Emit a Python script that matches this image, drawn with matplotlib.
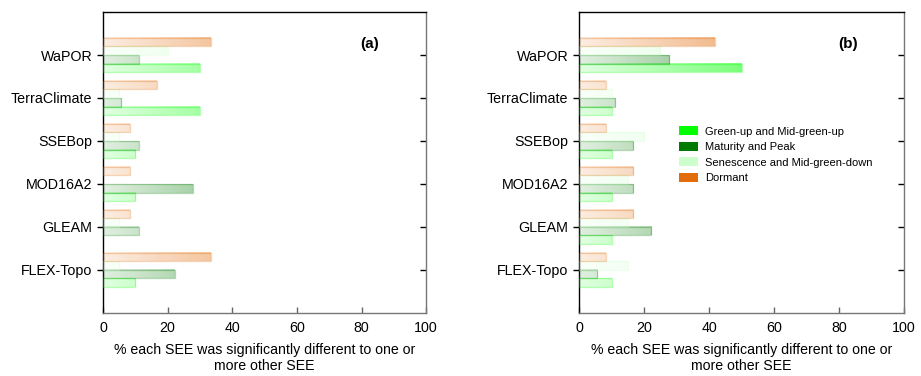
import numpy as np
import matplotlib.pyplot as plt
from matplotlib.colors import to_rgb

plt.rcParams["font.family"] = ["Liberation Sans", "DejaVu Sans"]

products = ["WaPOR", "TerraClimate", "SSEBop", "MOD16A2", "GLEAM", "FLEX-Topo"]
phases = ["Green-up and Mid-green-up", "Maturity and Peak",
          "Senescence and Mid-green-down", "Dormant"]
phase_colors = ["#00FF00", "#007A00", "#CCFFCC", "#E36C0A"]

# panel (a)
greenup_a = [30, 30, 10, 10, 0, 10]
maturity_a = [11.1, 5.6, 11.1, 27.8, 11.1, 22.2]
senescence_a = [20, 5, 5, 0, 5, 5]
dormant_a = [33.3, 16.7, 8.3, 8.3, 8.3, 33.3]

# panel (b)
greenup_b = [50, 10, 10, 10, 10, 10]
maturity_b = [27.8, 11.1, 16.7, 16.7, 22.2, 5.6]
senescence_b = [25, 10, 20, 15, 15, 15]
dormant_b = [41.7, 8.3, 8.3, 16.7, 16.7, 8.3]

xticks = [0, 20, 40, 60, 80, 100]
xlabel = "% each SEE was significantly different to one or\nmore other SEE"

fig = plt.figure(figsize=(9.21, 3.76), dpi=100)
ax_a = fig.add_axes([0.1118, 0.168, 0.351, 0.80])
ax_b = fig.add_axes([0.6287, 0.168, 0.353, 0.80])

h = 0.2
offsets = [1.5 * h, 0.5 * h, -0.5 * h, -1.5 * h]  # green-up at bottom, dormant on top


def gradient_bar(ax, y, v, color):
    if v <= 0:
        return
    rgb = np.array(to_rgb(color))
    xs = np.linspace(0, v, 200)
    t = 0.12 + 0.008 * xs
    img = np.ones((1, len(xs), 4))
    img[0, :, :3] = rgb
    img[0, :, 3] = t
    ax.imshow(img, extent=[0, v, y + h / 2, y - h / 2], aspect="auto",
              interpolation="bilinear", zorder=2)
    ax.barh(y, v, height=h, facecolor="none", edgecolor=color, alpha=0.3,
            linewidth=0.9, zorder=3)


def draw_panel(ax, series, tag):
    for vals, col, off in zip(series, phase_colors, offsets):
        for i, v in enumerate(vals):
            gradient_bar(ax, i + off, v, col)
    ax.set_xlim(0, 100)
    ax.set_ylim(6.0, -1.0)
    ax.set_yticks(range(len(products)))
    ax.set_yticklabels(products, fontsize=10.3)
    ax.set_xticks(xticks)
    ax.set_xticklabels([str(x) for x in xticks], fontsize=10.3)
    ax.set_xlabel(xlabel, fontsize=10.2, labelpad=6, linespacing=1.1)
    ax.tick_params(axis="y", direction="out", length=4, width=1)
    ax.tick_params(axis="x", direction="in", length=4, width=1, colors="#666666",
                   labelcolor="black", pad=6)
    for side in ["left", "top"]:
        ax.spines[side].set_color("black")
    for side in ["right", "bottom"]:
        ax.spines[side].set_color("#777777")
    for s in ax.spines.values():
        s.set_linewidth(1.0)
    # inward ticks on the right-hand frame
    sec = ax.secondary_yaxis("right")
    sec.set_yticks(range(len(products)))
    sec.tick_params(direction="in", length=4, width=1, labelright=False)
    sec.spines["right"].set_visible(False)
    ax.text(0.826, 0.893, tag, transform=ax.transAxes, fontsize=11,
            fontweight="bold", ha="center", va="center")


draw_panel(ax_a, [greenup_a, maturity_a, senescence_a, dormant_a], "(a)")
draw_panel(ax_b, [greenup_b, maturity_b, senescence_b, dormant_b], "(b)")

handles = [plt.Rectangle((0, 0), 1, 1, facecolor=c, edgecolor="none") for c in phase_colors]
ax_b.legend(handles, phases, loc="upper left", bbox_to_anchor=(0.295, 0.635),
            frameon=False, fontsize=8, handlelength=1.7, handleheight=0.9,
            labelspacing=0.45, handletextpad=0.6, borderaxespad=0)

fig.savefig("out.png", dpi=100)
